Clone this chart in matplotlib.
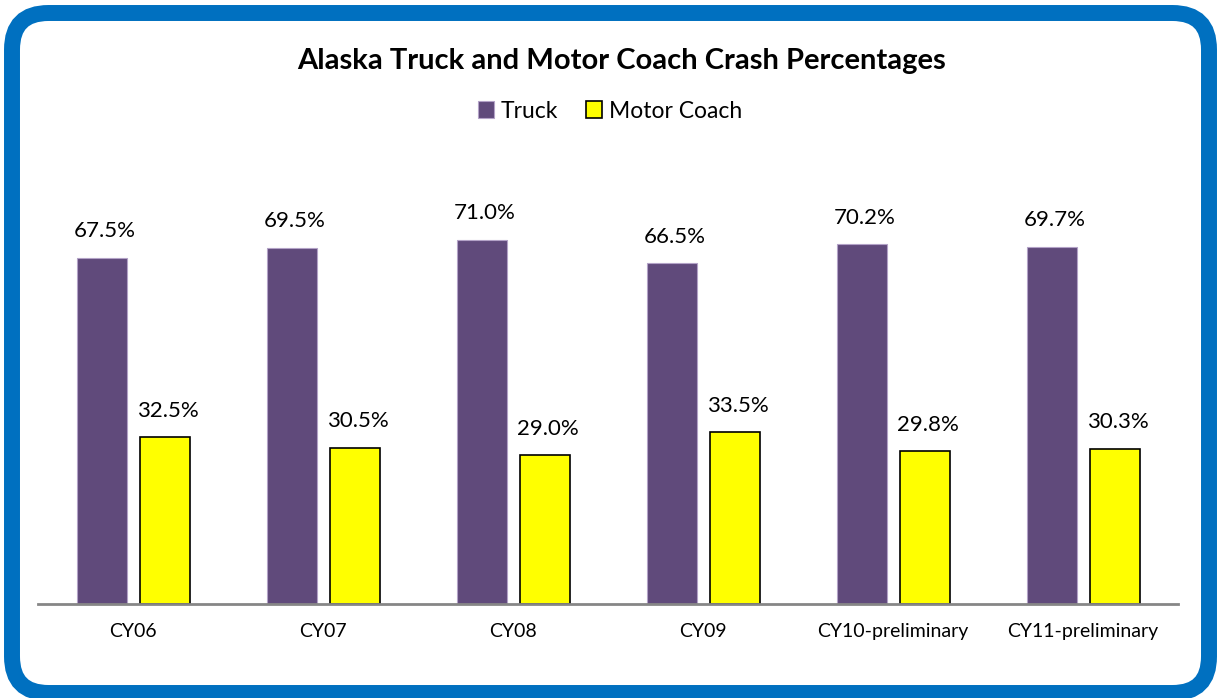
import matplotlib.pyplot as plt
import numpy as np
from matplotlib.patches import FancyBboxPatch

# Chart data
categories = ['CY06', 'CY07', 'CY08', 'CY09', 'CY10-preliminary', 'CY11-preliminary']
truck = [67.5, 69.5, 71.0, 66.5, 70.2, 69.7]
motor_coach = [32.5, 30.5, 29.0, 33.5, 29.8, 30.3]

plt.rcParams['font.family'] = ['Lato', 'DejaVu Sans']

fig = plt.figure(figsize=(12.17, 6.98), dpi=100)
W, H = 1217, 698

# Blue rounded frame
frame = FancyBboxPatch((12 / W, 5 / H), 1197 / W, 680 / H,
                       boxstyle='round,pad=0,rounding_size=0.03',
                       transform=fig.transFigure, facecolor='white',
                       edgecolor='#0070C0', linewidth=11.5, mutation_aspect=W / H,
                       zorder=-1)
fig.patches.append(frame)

ax = fig.add_axes([38 / W, (H - 604) / H, 1140 / W, 410 / H])
ax.set_facecolor('none')

x = np.arange(len(categories))
w = 0.263
b1 = ax.bar(x - 0.165, truck, width=w, color='#604A7B', edgecolor='#B3A2C7',
            linewidth=0.8, label='Truck')
b2 = ax.bar(x + 0.167, motor_coach, width=w, color='#FFFF00', edgecolor='black',
            linewidth=1.2, label='Motor Coach')

for bars in (b1, b2):
    for r in bars:
        ax.annotate(f'{r.get_height():.1f}%', (r.get_x() + r.get_width() / 2, r.get_height()),
                    xytext=(2, 12), textcoords='offset points', ha='center', va='bottom',
                    fontsize=16)

ax.set_xlim(-0.5, len(categories) - 0.5)
ax.set_ylim(0, 80)
ax.set_xticks(x)
ax.set_xticklabels(categories, fontsize=14)
ax.tick_params(axis='x', length=0, pad=14)
ax.set_yticks([])
for s in ['top', 'right', 'left']:
    ax.spines[s].set_visible(False)
ax.spines['bottom'].set_color('#868686')
ax.spines['bottom'].set_linewidth(2)

fig.text(622 / W, 1 - 61 / H, 'Alaska Truck and Motor Coach Crash Percentages',
         ha='center', va='center', fontsize=21, fontweight='bold')

fig.legend(handles=[b1, b2], loc='center', bbox_to_anchor=(610 / W, 1 - 111 / H),
           ncol=2, frameon=False, fontsize=16.5, handlelength=0.7, handleheight=0.7,
           handletextpad=0.3, columnspacing=1.2)

fig.savefig('out.png', dpi=100)
